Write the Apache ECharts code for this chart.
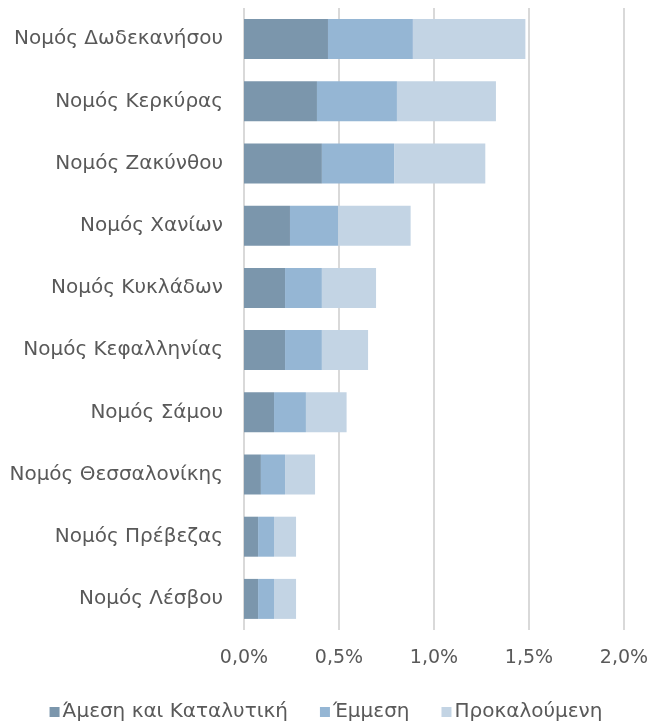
<!DOCTYPE html>
<html>
<head>
<meta charset="utf-8">
<script src="https://cdn.jsdelivr.net/npm/echarts@6/dist/echarts.min.js"></script>
<style>
  html, body { margin: 0; padding: 0; background: #fff; }
  #chart { width: 652px; height: 722px; }
</style>
</head>
<body>
<div id="chart"></div>
<script>
  // κατηγορίες (από πάνω προς τα κάτω)
  const nomoi = ['Νομός Δωδεκανήσου', 'Νομός Κερκύρας', 'Νομός Ζακύνθου', 'Νομός Χανίων',
    'Νομός Κυκλάδων', 'Νομός Κεφαλληνίας', 'Νομός Σάμου', 'Νομός Θεσσαλονίκης',
    'Νομός Πρέβεζας', 'Νομός Λέσβου'];
  // τιμές σε %
  const amesi = [0.442, 0.384, 0.410, 0.242, 0.216, 0.216, 0.158, 0.089, 0.074, 0.074];
  const emmesi = [0.447, 0.421, 0.380, 0.254, 0.194, 0.194, 0.168, 0.127, 0.084, 0.084];
  const prokaloumeni = [0.592, 0.521, 0.480, 0.381, 0.285, 0.243, 0.214, 0.158, 0.116, 0.116];
  const xTicks = [0, 0.5, 1.0, 1.5, 2.0];

  const font = 'DejaVu Sans';
  const textColor = '#595959';

  let chart = echarts.init(document.getElementById('chart'));
  chart.setOption({
    animation: false,
    textStyle: { fontFamily: font },
    grid: { left: 244, right: 28, top: 8, bottom: 92 },
    legend: {
      top: 702,
      padding: 0,
      left: 'center',
      icon: 'rect',
      itemWidth: 10,
      itemHeight: 10,
      itemGap: 32,
      textStyle: { fontFamily: font, fontSize: 20, color: textColor, padding: [0, 0, 0, -2] },
      data: ['Άμεση και Καταλυτική', 'Έμμεση', 'Προκαλούμενη']
    },
    xAxis: {
      type: 'value',
      min: xTicks[0],
      max: xTicks[xTicks.length - 1],
      interval: 0.5,
      axisLine: { show: false },
      axisTick: { show: false },
      axisLabel: {
        fontSize: 19,
        color: textColor,
        margin: 19,
        formatter: v => v.toFixed(1).replace('.', ',') + '%'
      },
      splitLine: { lineStyle: { color: '#d9d9d9', width: 2 } }
    },
    yAxis: {
      type: 'category',
      inverse: true,
      data: nomoi,
      axisLine: { show: false },
      axisTick: { show: false },
      axisLabel: { fontSize: 20, color: textColor, margin: 21 }
    },
    series: [
      { name: 'Άμεση και Καταλυτική', type: 'bar', stack: 'total', barWidth: 40, color: '#7b96ac', data: amesi },
      { name: 'Έμμεση', type: 'bar', stack: 'total', barWidth: 40, color: '#95b6d4', data: emmesi },
      { name: 'Προκαλούμενη', type: 'bar', stack: 'total', barWidth: 40, color: '#c3d4e4', data: prokaloumeni }
    ]
  });
</script>
</body>
</html>
